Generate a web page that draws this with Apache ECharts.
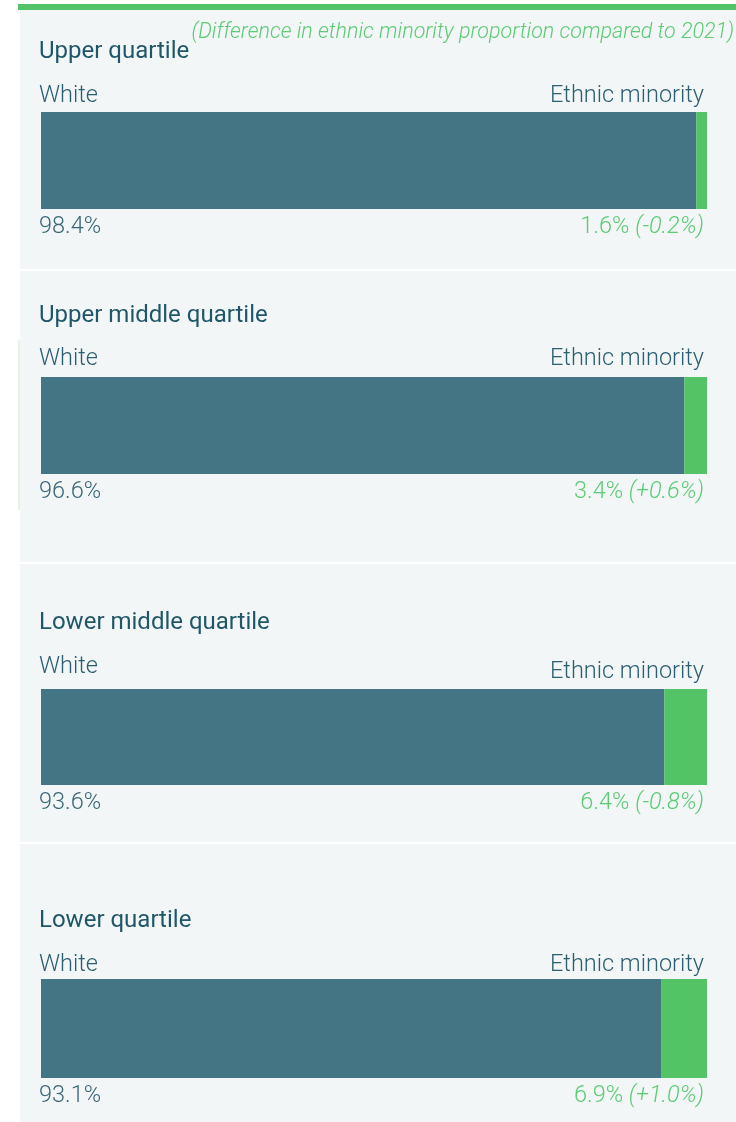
<!DOCTYPE html>
<html>
<head>
<meta charset="utf-8">
<script src="https://cdn.jsdelivr.net/npm/echarts@6/dist/echarts.min.js"></script>
<style>
html,body{margin:0;padding:0;background:#ffffff;}
#chart{width:736px;height:1122px;}
</style>
</head>
<body>
<div id="chart"></div>
<script>
// ---- data ----
const quartiles = ['Upper quartile', 'Upper middle quartile', 'Lower middle quartile', 'Lower quartile'];
const whitePct = [98.4, 96.6, 93.6, 93.1];
const minorityPct = [1.6, 3.4, 6.4, 6.9];
const minorityChange = ['-0.2', '+0.6', '-0.8', '+1.0'];
const leftLabel = 'White';
const rightLabel = 'Ethnic minority';
const subtitle = '(Difference in ethnic minority proportion compared to 2021)';

// ---- layout ----
const panels = [[10, 269], [271, 562], [564, 842], [844, 1122]];
const titleY = [52, 316, 623, 921];
const headLY = [96, 359, 667, 965];
const headRY = [96, 359, 672, 965];
const barTop = [112, 377, 689, 979];
const barH = [97, 97, 96, 99];
const barLeft = 41, barW = 666;

const FONT = 'Roboto';
const DARK = '#1f5668';
const TEAL = '#437585';
const GREEN = '#52c466';
const GREEN_TXT = '#5ccb74';

const chart = echarts.init(document.getElementById('chart'), null, {renderer: 'canvas'});

const grid = [], xAxis = [], yAxis = [], series = [], graphic = [];

panels.forEach((p, i) => {
  graphic.push({type: 'rect', z: -10, shape: {x: 20, y: p[0], width: 716, height: p[1] - p[0]}, style: {fill: '#f2f6f7'}});
});
graphic.push({type: 'rect', z: -9, shape: {x: 18, y: 340, width: 2, height: 170}, style: {fill: '#e3f4e6'}});
graphic.push({type: 'rect', shape: {x: 18, y: 4, width: 718, height: 6}, style: {fill: GREEN}});
graphic.push({type: 'text', x: 734, y: 33, style: {text: subtitle, font: 'italic 300 21.5px ' + FONT, fill: GREEN_TXT, align: 'right', verticalAlign: 'middle'}});

quartiles.forEach((q, i) => {
  grid.push({left: barLeft, width: barW, top: barTop[i], height: barH[i], containLabel: false});
  xAxis.push({type: 'value', gridIndex: i, min: 0, max: 100, show: false});
  yAxis.push({type: 'category', gridIndex: i, data: [q], show: false});
  graphic.push({type: 'text', x: 39, y: titleY[i], style: {text: q, font: '400 24px ' + FONT, fill: DARK, verticalAlign: 'middle'}});
  graphic.push({type: 'text', x: 39, y: headLY[i], style: {text: leftLabel, font: '300 23.5px ' + FONT, fill: '#2b5f71', verticalAlign: 'middle'}});
  graphic.push({type: 'text', x: 704, y: headRY[i], style: {text: rightLabel, font: '300 23.5px ' + FONT, fill: '#2b5f71', align: 'right', verticalAlign: 'middle'}});
  series.push({
    type: 'bar', xAxisIndex: i, yAxisIndex: i, stack: 's' + i, barWidth: '100%',
    data: [whitePct[i]], itemStyle: {color: TEAL}, silent: true,
    label: {show: true, position: [0, '100%'], offset: [-2, 6], align: 'left', verticalAlign: 'top',
      formatter: (prm) => prm.value.toFixed(1) + '%', fontFamily: FONT, fontWeight: 300, fontSize: 23.5, color: '#3a6676'}
  });
  series.push({
    type: 'bar', xAxisIndex: i, yAxisIndex: i, stack: 's' + i, barWidth: '100%',
    data: [minorityPct[i]], itemStyle: {color: GREEN}, silent: true,
    label: {show: true, position: ['100%', '100%'], offset: [-3, 6], align: 'right', verticalAlign: 'top',
      formatter: (prm) => '{a|' + prm.value.toFixed(1) + '% }{b|(' + minorityChange[i] + '%)}',
      rich: {
        a: {fontFamily: FONT, fontWeight: 300, fontSize: 23.5, color: GREEN_TXT},
        b: {fontFamily: FONT, fontWeight: 300, fontStyle: 'italic', fontSize: 23.5, color: GREEN_TXT}
      }}
  });
});

chart.setOption({animation: false, grid, xAxis, yAxis, series, graphic});
</script>
</body>
</html>
